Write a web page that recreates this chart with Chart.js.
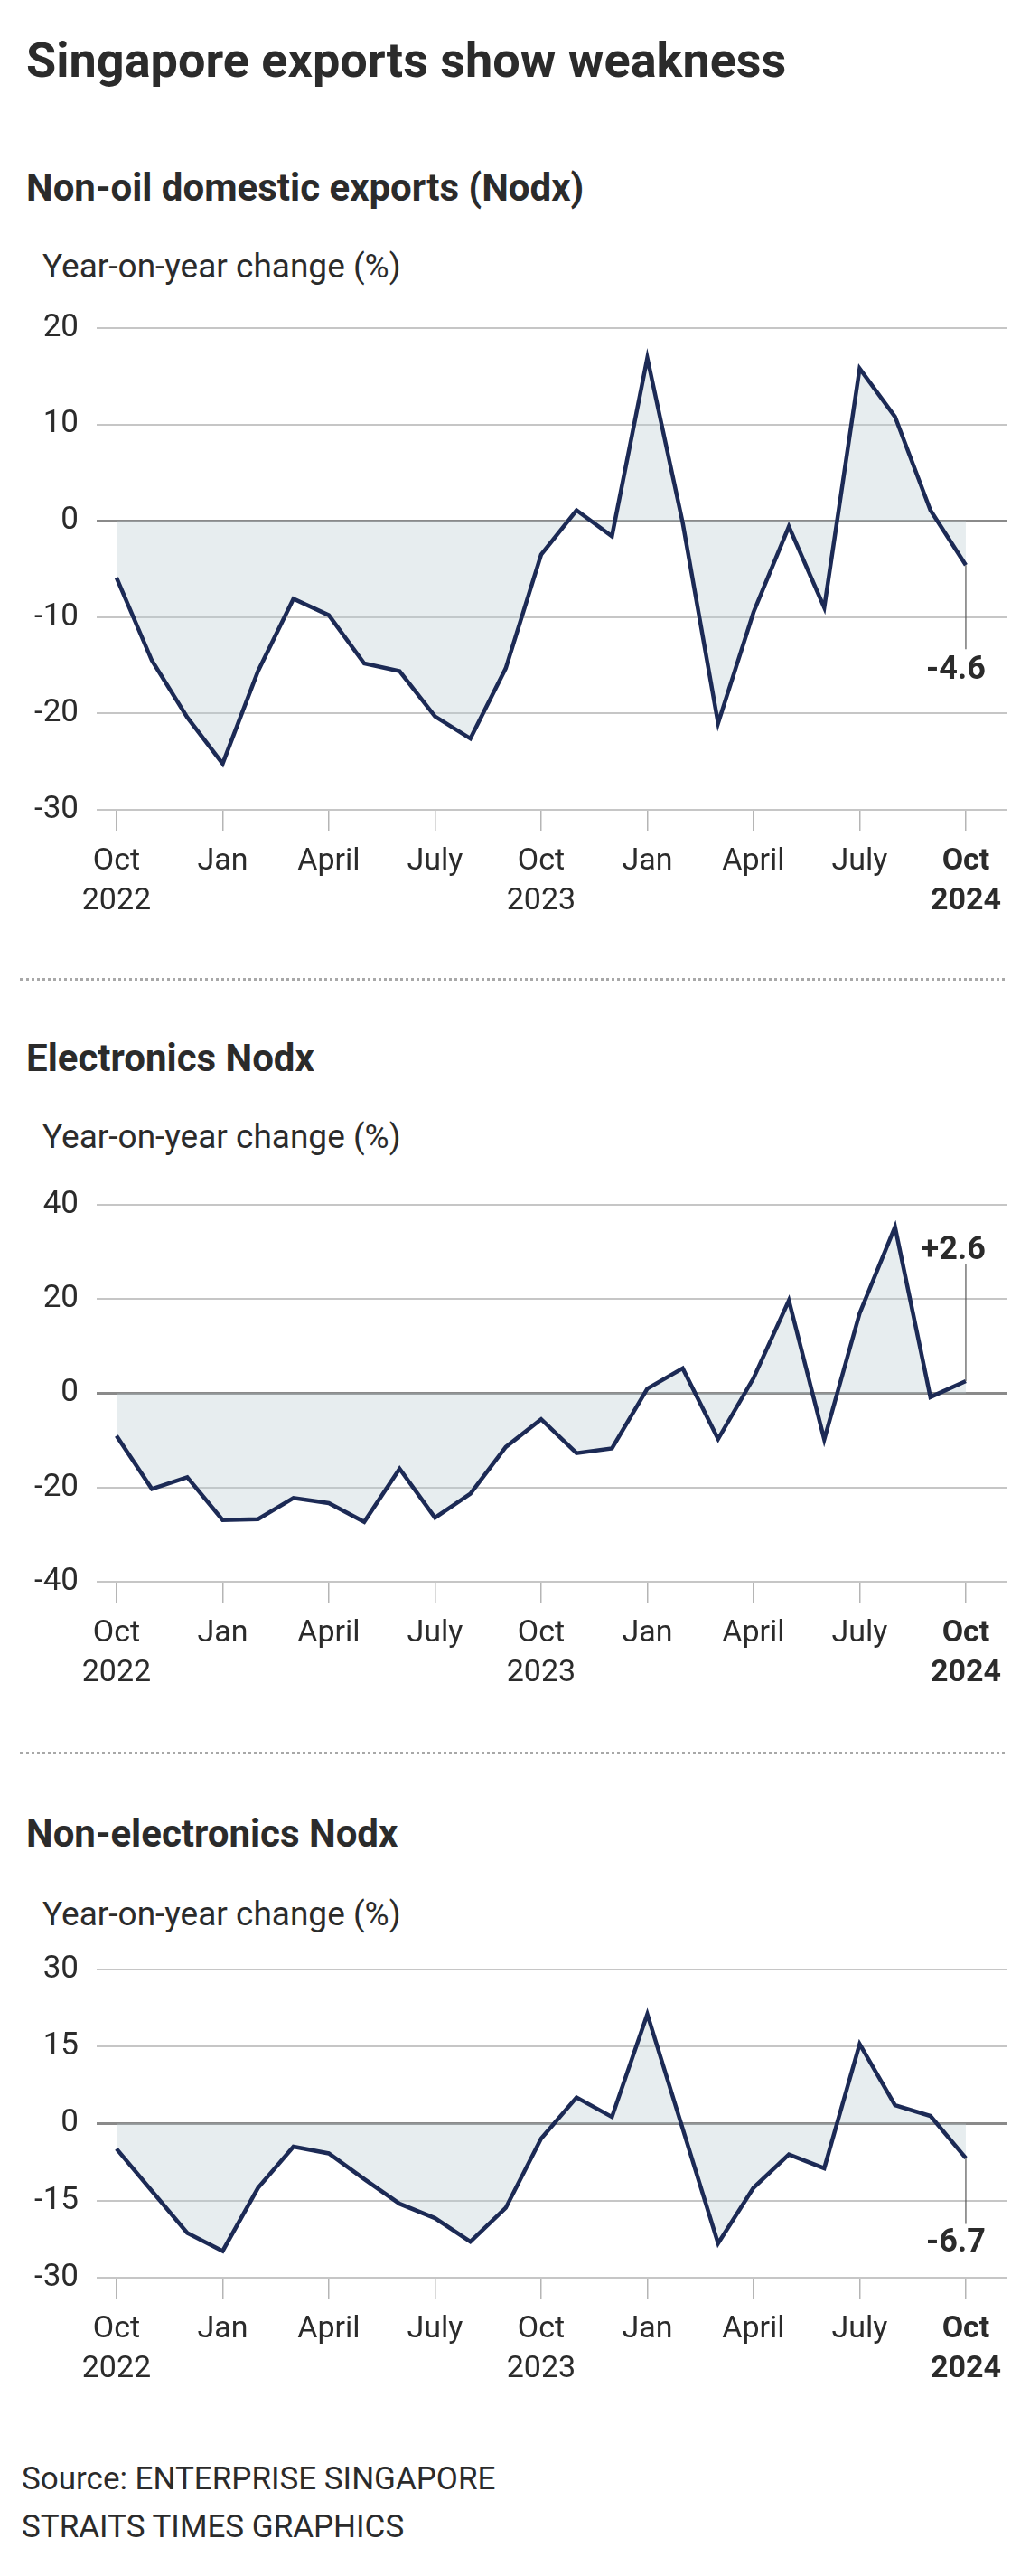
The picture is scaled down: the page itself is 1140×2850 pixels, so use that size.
<!DOCTYPE html>
<html>
<head>
<meta charset="utf-8">
<script src="https://cdn.jsdelivr.net/npm/chart.js@4.4.1/dist/chart.umd.min.js"></script>
<style>
  body { margin: 0; background: #fff; }
  #page { position: relative; width: 1140px; height: 2850px; font-family: Roboto, sans-serif; color: #2b2b2b; }
  .t { position: absolute; left: 29px; white-space: nowrap; line-height: 1; }
  .title { font-size: 54px; font-weight: 700; top: 40px; }
  .sub { font-size: 42px; font-weight: 700; }
  .ax { font-size: 37px; left: 47px; }
  .src { font-size: 35px; left: 24px; }
  .sep { position: absolute; left: 22px; width: 1090px; border-top: 3px dotted #a8a8a8; }
  .box { position: absolute; left: 0; width: 1140px; }
</style>
</head>
<body>
<div id="page">
  <div class="t title">Singapore exports show weakness</div>

  <div class="t sub" style="top:187px">Non-oil domestic exports (Nodx)</div>
  <div class="t ax" style="top:276px">Year-on-year change (%)</div>
  <div class="box" style="top:322px;height:704px"><canvas id="c1" width="1140" height="704"></canvas></div>

  <div class="sep" style="top:1082px"></div>

  <div class="t sub" style="top:1150px">Electronics Nodx</div>
  <div class="t ax" style="top:1239px">Year-on-year change (%)</div>
  <div class="box" style="top:1292px;height:588px"><canvas id="c2" width="1140" height="588"></canvas></div>

  <div class="sep" style="top:1938px"></div>

  <div class="t sub" style="top:2008px">Non-electronics Nodx</div>
  <div class="t ax" style="top:2099px">Year-on-year change (%)</div>
  <div class="box" style="top:2138px;height:512px"><canvas id="c3" width="1140" height="512"></canvas></div>

  <div class="t src" style="top:2725px">Source: ENTERPRISE SINGAPORE</div>
  <div class="t src" style="top:2778px">STRAITS TIMES GRAPHICS</div>
</div>

<script>
// months Oct 2022 .. Oct 2024
const months = ['Oct 22','Nov 22','Dec 22','Jan 23','Feb 23','Mar 23','Apr 23','May 23','Jun 23',
  'Jul 23','Aug 23','Sep 23','Oct 23','Nov 23','Dec 23','Jan 24','Feb 24','Mar 24','Apr 24',
  'May 24','Jun 24','Jul 24','Aug 24','Sep 24','Oct 24'];
const tickLabels = [['Oct','2022'],['Jan'],['April'],['July'],['Oct','2023'],['Jan'],['April'],['July'],['Oct','2024']];

const nodx = [-5.9, -14.5, -20.4, -25.2, -15.6, -8.1, -9.8, -14.8, -15.6, -20.3, -22.6, -15.3,
  -3.5, 1.1, -1.6, 16.9, -0.2, -21.0, -9.5, -0.6, -9.0, 15.8, 10.8, 1.1, -4.6];
const electronics = [-9.0, -20.3, -17.8, -26.9, -26.7, -22.2, -23.3, -27.3, -16.0, -26.4, -21.3, -11.4,
  -5.5, -12.7, -11.7, 1.0, 5.3, -9.7, 3.2, 19.7, -9.8, 17.0, 35.3, -0.8, 2.6];
const nonElectronics = [-4.9, -13.1, -21.3, -24.8, -12.5, -4.5, -5.8, -10.8, -15.6, -18.4, -23.0, -16.4,
  -2.9, 5.1, 1.3, 21.3, -1.0, -23.3, -12.5, -6.0, -8.7, 15.5, 3.6, 1.5, -6.7];

const FONT = 'Roboto, sans-serif';
const INK = '#2b2b2b';

// leader line + label on the last point
const endLabel = {
  id: 'endLabel',
  afterDatasetsDraw(chart, args, opts) {
    const vals = chart.data.datasets[0].data;
    const last = vals[vals.length - 1];
    const x = chart.scales.x.getPixelForValue(last.x);
    const y = chart.scales.y.getPixelForValue(last.y);
    const c = chart.ctx;
    c.save();
    c.strokeStyle = '#555';
    c.lineWidth = 1.2;
    c.beginPath();
    c.moveTo(x, y);
    c.lineTo(x, y + opts.lead);
    c.stroke();
    c.fillStyle = INK;
    c.font = 'bold 36px ' + FONT;
    c.textAlign = 'right';
    c.textBaseline = 'middle';
    c.fillText(opts.text, x + 22, y + opts.textAt);
    c.restore();
  }
};

function makeChart(id, values, yMin, yMax, step, label) {
  return new Chart(document.getElementById(id), {
    type: 'line',
    data: {
      datasets: [{
        data: values.map((v, i) => ({ x: i, y: v })),
        borderColor: '#1c2a55',
        borderWidth: 4.5,
        borderJoinStyle: 'miter',
        backgroundColor: 'rgba(186,202,210,0.35)',
        fill: 'origin',
        pointRadius: 0,
        tension: 0
      }]
    },
    options: {
      responsive: false,
      animation: false,
      layout: { padding: { top: 30, right: 26, bottom: 0, left: 0 } },
      plugins: { legend: { display: false }, tooltip: { enabled: false }, endLabel: label },
      scales: {
        x: {
          type: 'linear',
          min: -0.56,
          max: months.length - 1 + 1.15,
          afterBuildTicks: s => { s.ticks = tickLabels.map((_, k) => ({ value: k * 3 })); },
          afterFit: s => { s.height = 130; },
          border: { display: false },
          grid: { drawOnChartArea: false, tickLength: 23, color: '#b5b5b5', lineWidth: 1.5 },
          ticks: {
            padding: 12,
            color: INK,
            maxRotation: 0,
            autoSkip: false,
            callback: (v, i) => tickLabels[i],
            font: ctx => ({ family: FONT, size: 34, lineHeight: 1.3,
              weight: ctx.index === tickLabels.length - 1 ? 'bold' : 'normal' })
          }
        },
        y: {
          min: yMin,
          max: yMax,
          afterFit: s => { s.width = 107; },
          border: { display: false },
          grid: {
            drawTicks: false,
            color: ctx => ctx.tick.value === 0 ? '#8a8a8a' : '#c6c6c6',
            lineWidth: ctx => ctx.tick.value === 0 ? 3 : 2
          },
          ticks: { stepSize: step, padding: 20, color: INK, font: { family: FONT, size: 35 } }
        }
      }
    },
    plugins: [endLabel]
  });
}

makeChart('c1', nodx, -30, 20, 10, { text: '-4.6', lead: 93, textAt: 117 });
makeChart('c2', electronics, -40, 40, 20, { text: '+2.6', lead: -129, textAt: -144 });
makeChart('c3', nonElectronics, -30, 30, 15, { text: '-6.7', lead: 73, textAt: 94 });
</script>
</body>
</html>
